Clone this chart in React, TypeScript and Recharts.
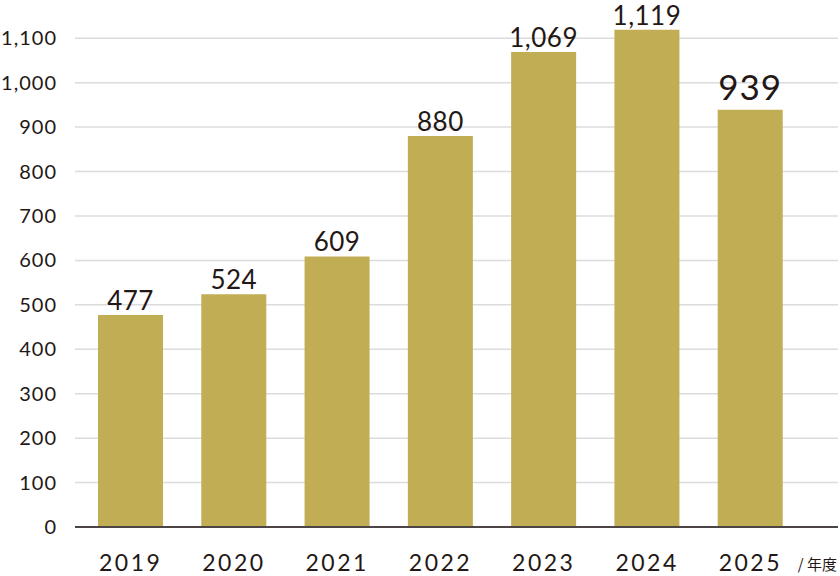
import { BarChart, Bar, CartesianGrid, XAxis, YAxis, LabelList } from "recharts";

const years = ["2019", "2020", "2021", "2022", "2023", "2024", "2025"];
const counts = [477, 524, 609, 880, 1069, 1119, 939];
const yTicks = [0, 100, 200, 300, 400, 500, 600, 700, 800, 900, 1000, 1100];
const yMax = 1150;

const data = years.map((year, i) => ({ year, count: counts[i] }));

const FONT = "Lato, 'Noto Sans', sans-serif";
const INK = "#231815";

const fmt = (v: number) => v.toLocaleString("en-US");

// grid lines only at the tick values, not at the top of the domain
const gridRows = (args: any) => {
  const off = args.offset || {};
  const top = off.top ?? 16;
  const h = off.height ?? 511;
  return yTicks.map((t) => top + h * (1 - t / yMax));
};

function YearTick(props: any) {
  const { x, y, payload } = props;
  return (
    <text x={x} y={y + 36} textAnchor="middle" fill={INK} fontFamily={FONT} fontSize={23} letterSpacing={2.5}>
      {payload.value}
    </text>
  );
}

function ValueLabel(props: any) {
  const { x, y, width, value, index } = props;
  const last = index === counts.length - 1;
  return (
    <text
      x={x + width / 2}
      y={y - (last ? 10 : 5)}
      textAnchor="middle"
      fill={INK}
      fontFamily={FONT}
      fontSize={last ? 35 : 26}
      letterSpacing={last ? 1 : 0.5}
    >
      {fmt(value)}
    </text>
  );
}

function UnitLabel() {
  return (
    <text
      x={837}
      y={570}
      textAnchor="end"
      fill={INK}
      fontFamily="'Noto Sans CJK JP', 'Noto Sans', sans-serif"
      fontSize={15}
    >
      / 年度
    </text>
  );
}

export default function App() {
  return (
    <div style={{ position: "absolute", left: 0, top: 0, background: "#fff" }}>
      <BarChart width={840} height={576} data={data} margin={{ top: 16, right: 2, bottom: 0, left: 0 }} barSize={65}>
        <CartesianGrid vertical={false} stroke="#dcdcdc" strokeWidth={1.5} horizontalCoordinatesGenerator={gridRows} />
        <XAxis
          dataKey="year"
          height={49}
          padding={{ left: 4, right: 36 }}
          tickLine={false}
          axisLine={{ stroke: "#4d4545", strokeWidth: 2 }}
          tick={<YearTick />}
          interval={0}
          label={<UnitLabel />}
        />
        <YAxis
          width={75}
          domain={[0, yMax]}
          ticks={yTicks}
          allowDataOverflow
          axisLine={false}
          tickLine={false}
          tickFormatter={fmt}
          tickMargin={12}
          tick={{ fill: INK, fontFamily: FONT, fontSize: 20, letterSpacing: 1 }}
        />
        <Bar dataKey="count" fill="#C1AD53" isAnimationActive={false}>
          <LabelList dataKey="count" content={<ValueLabel />} />
        </Bar>
      </BarChart>
    </div>
  );
}
